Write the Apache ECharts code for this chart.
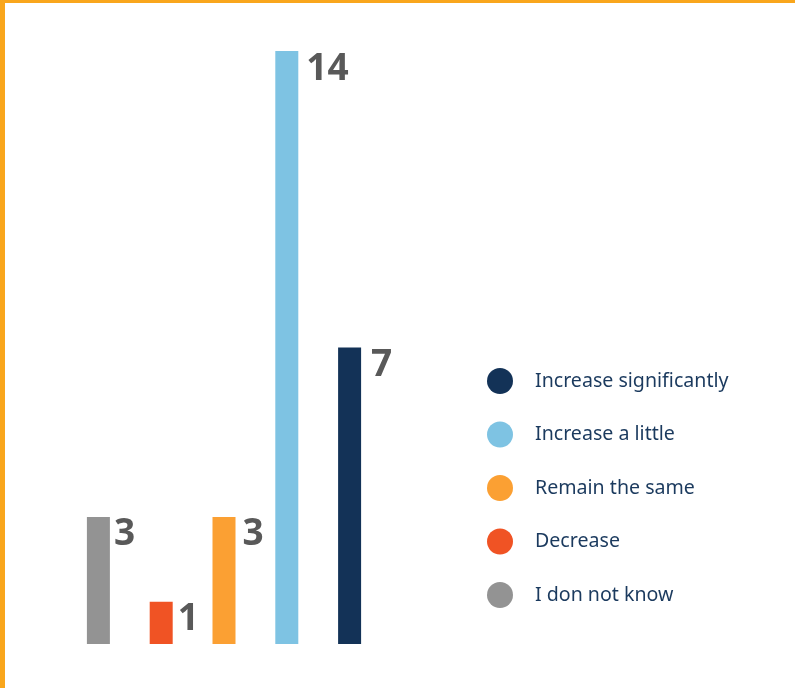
<!DOCTYPE html>
<html><head><meta charset="utf-8">
<style>html,body{margin:0;padding:0;background:#fff}#c{width:795px;height:688px}</style>
<script src="https://cdn.jsdelivr.net/npm/echarts@6/dist/echarts.min.js"></script>
</head><body><div id="c"></div>
<script>
const categories = ['I don not know', 'Decrease', 'Remain the same', 'Increase a little', 'Increase significantly'];
const values = [3, 1, 3, 14, 7];
const colors = ['#939393', '#F05324', '#FBA033', '#7EC3E3', '#133257'];
const legendOrder = ['Increase significantly', 'Increase a little', 'Remain the same', 'Decrease', 'I don not know'];
const labelShiftX = [4, 5, 7, 8, 10];

const chart = echarts.init(document.getElementById('c'));
const series = categories.map((name, i) => ({
  name: name,
  type: 'bar',
  barWidth: 23,
  barGap: '-100%',
  itemStyle: { color: colors[i] },
  data: categories.map((c, j) => j === i ? values[i] : null),
  label: {
    show: true,
    position: ['100%', 0],
    offset: [labelShiftX[i], -4],
    align: 'left',
    verticalAlign: 'top',
    fontFamily: 'Open Sans',
    fontWeight: 'bold',
    fontSize: 37,
    lineHeight: 44,
    color: '#595959'
  }
}));
chart.setOption({
  animation: false,
  grid: { left: 67, right: 414, top: 51, bottom: 44 },
  xAxis: { type: 'category', data: categories, show: false },
  yAxis: { type: 'value', min: 0, max: 14, show: false },
  legend: {
    data: legendOrder,
    orient: 'vertical',
    left: 487,
    top: 368,
    padding: 0,
    icon: 'circle',
    itemWidth: 26,
    itemHeight: 26,
    itemGap: 27.5,
    textStyle: { fontFamily: 'Noto Sans', fontSize: 19.6, color: '#1B3A5E', padding: [3, 0, 0, 17] },
    selectedMode: false
  },
  graphic: [
    { type: 'rect', shape: { x: 0, y: 0, width: 795, height: 3 }, style: { fill: '#F9A61C' }, silent: true },
    { type: 'rect', shape: { x: 0, y: 0, width: 5, height: 688 }, style: { fill: '#F9A61C' }, silent: true }
  ],
  series: series
});
</script></body></html>
